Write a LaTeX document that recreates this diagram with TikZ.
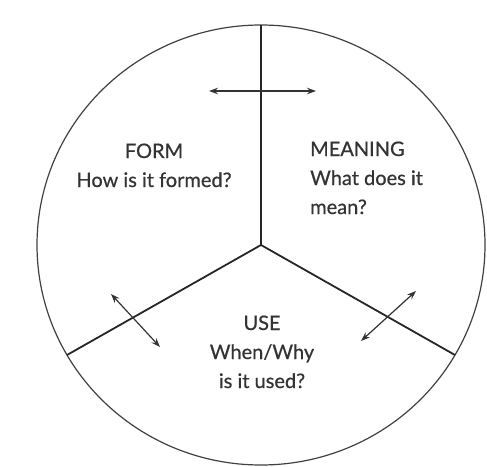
\documentclass[tikz,border=0pt]{standalone}
\usepackage{fontspec}
\setmainfont[FakeBold=0.6]{Lato}
\usetikzlibrary{arrows.meta, positioning, calc}

\tikzset{
  spoke/.style={line width=1.8pt, black!85},
  link/.style={<->, line width=1.2pt, black!80},
  label/.style={font=\fontsize{20}{29}\selectfont, text=black!80, inner sep=0pt}
}

\begin{document}
\begin{tikzpicture}[>={Stealth[length=9pt, width=6.5pt]}, x=1pt, y=-1pt]
        \useasboundingbox (0,0) rectangle (487,466);
        % Circle and its three parts
        \coordinate (O) at (261,245);
        \draw[line width=1.2pt, black!75] (O) ellipse (224pt and 220pt);
        \foreach \a/\n in {90/top, 210/left, 330/right} {
            \coordinate (\n) at ($(O)+(\a:224pt and 220pt)$);
            \draw[spoke] (O) -- (\n);
        }
        
        % Texts (base = last line)
        \node[label, anchor=base, align=center] (form) at (154,187) {FORM\\How is it formed?};
        \node[label, anchor=base west, align=left] (meaning) at (310,214) {MEANING\\What does it\\mean?};
        \node[label, anchor=base, align=center] (use) at (262,388) {USE\\When/Why\\is it used?};
        
        % Two-way arrows
        \coordinate (a1) at (209,91);
        \coordinate (b1) at (316,91);
        \coordinate (a2) at (111,294);
        \coordinate (b2) at (160,347);
        \coordinate (a3) at (416,291);
        \coordinate (b3) at (361,341);
        \draw[link] (a1) -- (b1);
        \draw[link] (a2) -- (b2);
        \draw[link] (a3) -- (b3);
    \end{tikzpicture}
\end{document}
